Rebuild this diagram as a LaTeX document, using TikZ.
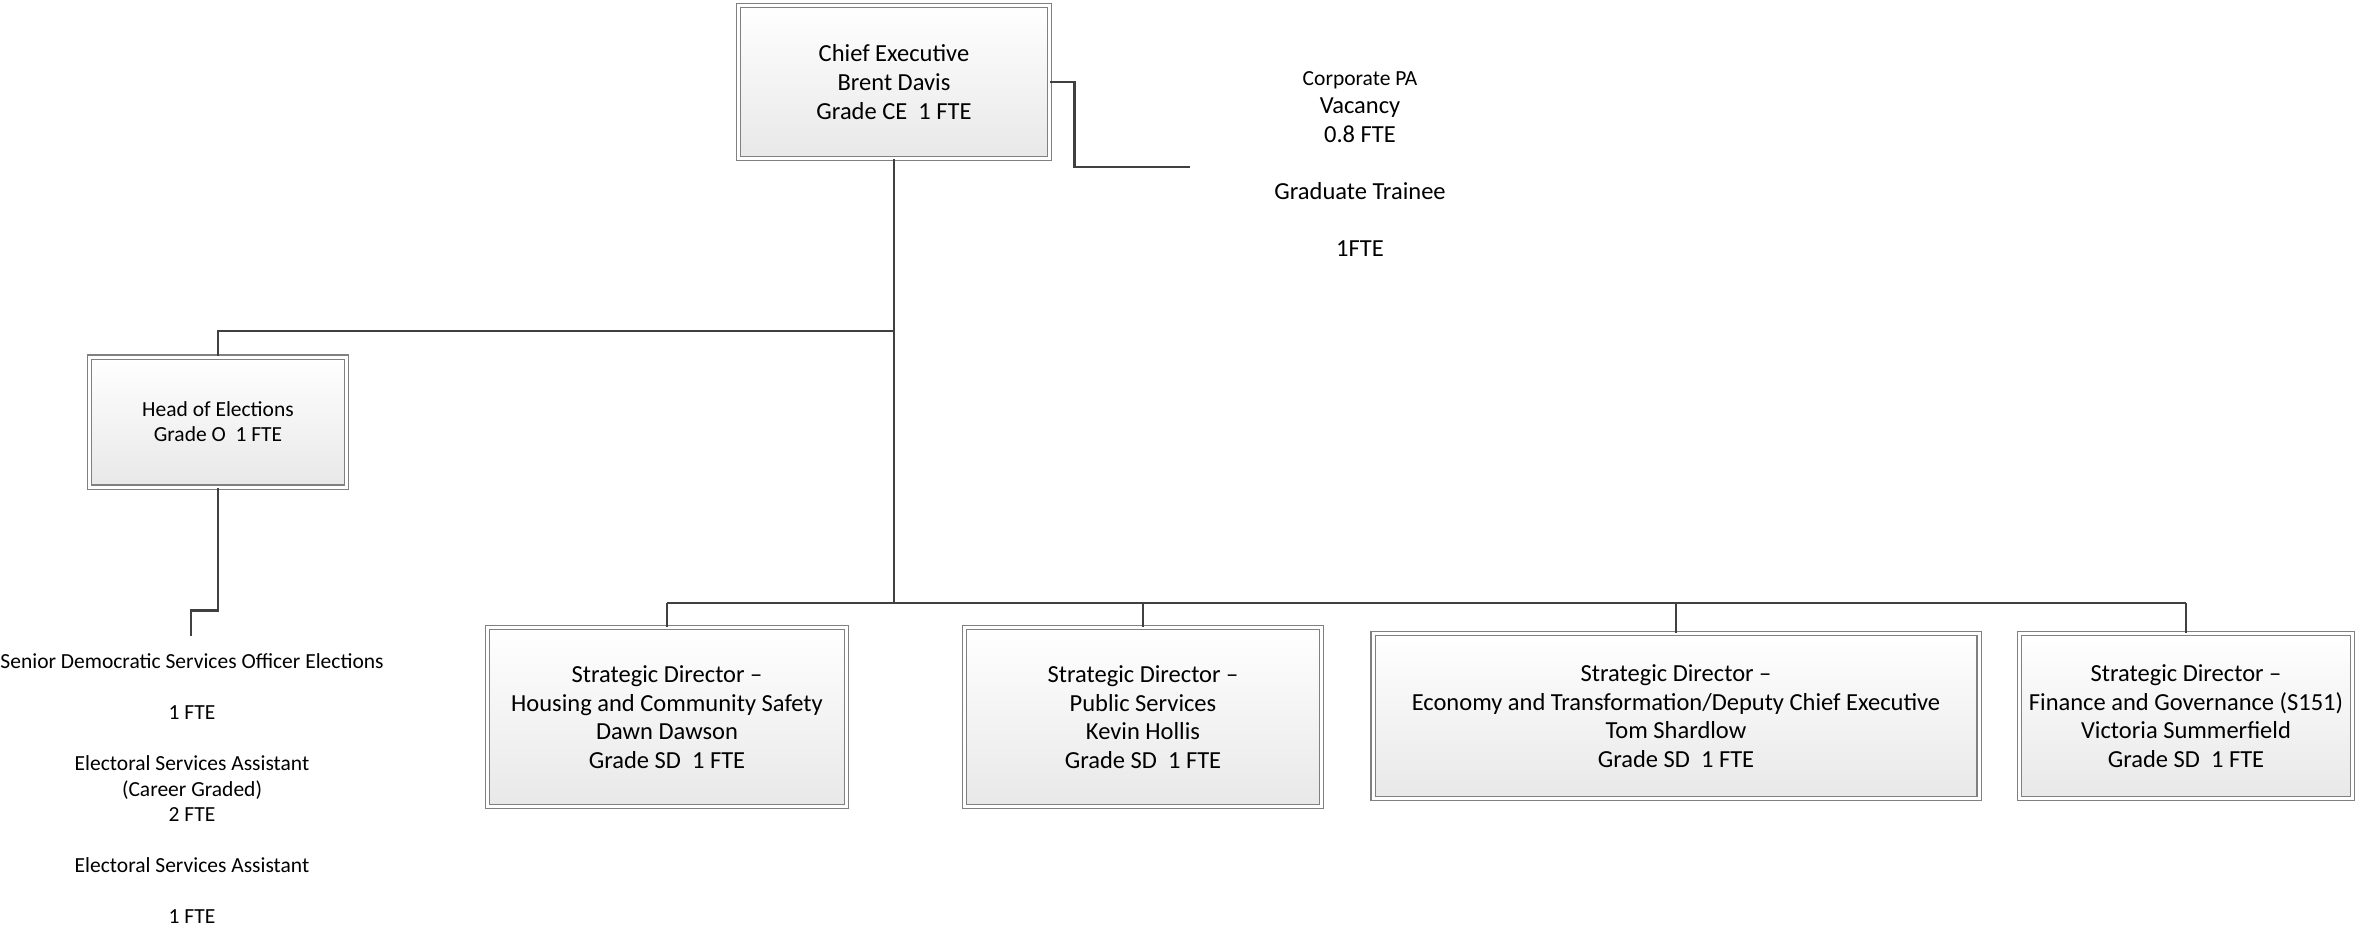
\documentclass[tikz,border=0pt]{standalone}
\usepackage{fontspec}
\setmainfont{Carlito}
\begin{document}
\begin{tikzpicture}[x=0.5pt,y=-0.5pt,
	post/.style={draw=black!50, double=white, double distance=1.5pt, line width=0.55pt, top color=white, bottom color=black!9, align=center, inner sep=0pt, font=\fontsize{12.25}{14.3}\selectfont},
	link/.style={draw=black!75, line width=1.45pt},
	drop/.style={draw=black!75, line width=1pt},
	note/.style={align=center, inner sep=0pt}]
	\useasboundingbox (0,0) rectangle (2357,934);
	% chief and directors
	\node[post, minimum width=155.5pt, minimum height=76.5pt] (ce) at (894,82) {Chief Executive\\Brent Davis\\Grade CE\ \ 1 FTE};
	\node[post, minimum width=128.5pt, minimum height=65pt, font=\fontsize{10.75}{12.5}\selectfont] (head) at (218,422) {Head of Elections\\Grade O\ \ 1 FTE};
	\node[post, minimum width=179.5pt, minimum height=89.5pt] (sd1) at (667,717) {Strategic Director --\\Housing and Community Safety\\Dawn Dawson\\Grade SD\ \ 1 FTE};
	\node[post, minimum width=178.5pt, minimum height=89.5pt] (sd2) at (1143,717) {Strategic Director --\\Public Services\\Kevin Hollis\\Grade SD\ \ 1 FTE};
	\node[post, minimum width=303pt, minimum height=82.5pt] (sd3) at (1676,716) {Strategic Director --\\Economy and Transformation/Deputy Chief Executive\\Tom Shardlow\\Grade SD\ \ 1 FTE};
	\node[post, minimum width=166.5pt, minimum height=82.5pt] (sd4) at (2186,716) {Strategic Director --\\Finance and Governance (S151)\\Victoria Summerfield\\Grade SD\ \ 1 FTE};
	% free texts
	\node[note, font=\fontsize{12.25}{14.3}\selectfont] (pa) at (1360,164) {{\fontsize{10.75}{14.3}\selectfont Corporate PA}\\Vacancy\\0.8 FTE\\[14.3pt]Graduate Trainee\\[14.3pt]1FTE};
	\node[note, font=\fontsize{10.75}{12.75}\selectfont] (staff) at (192,789) {Senior Democratic Services Officer Elections\\[12.75pt]1 FTE\\[12.75pt]Electoral Services Assistant\\(Career Graded)\\2 FTE\\[12.75pt]Electoral Services Assistant\\[12.75pt]1 FTE};
	% connectors
	\coordinate (bus) at (894,603);
	\coordinate (fork) at (894,331);
	\coordinate (paend) at (1190,167);
	\coordinate (staffend) at (191,636);
	\draw[link] (ce.south) -- (bus);
	\draw[link] (sd1.north |- bus) -- (sd4.north |- bus);
	\draw[drop] (sd1.north) -- (sd1.north |- bus);
	\draw[drop] (sd2.north) -- (sd2.north |- bus);
	\draw[drop] (sd3.north) -- (sd3.north |- bus);
	\draw[drop] (sd4.north) -- (sd4.north |- bus);
	\draw[link] (fork) -| (head.north);
	\draw[link] (head.south) -- ++(0,123) -| (staffend);
	\draw[link] (ce.east) -- ++(24,0) |- (paend);
\end{tikzpicture}
\end{document}
